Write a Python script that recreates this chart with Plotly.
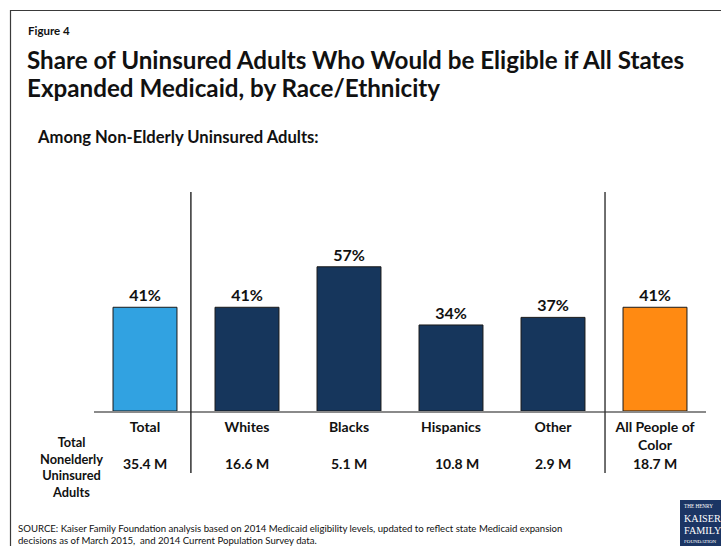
import plotly.graph_objects as go

W, H = 721, 546

# Data
categories = ["Total", "Whites", "Blacks", "Hispanics", "Other", "All People of<br>Color"]
eligible_share = [41, 41, 57, 34, 37, 41]
uninsured_millions = [35.4, 16.6, 5.1, 10.8, 2.9, 18.7]
bar_colors = ["#31A2E1", "#16365C", "#16365C", "#16365C", "#16365C", "#FF8A12"]

FONT = "Lato"
INK = "#111111"


def px_x(x):
    return x / W


def px_y(y):
    return 1 - y / H


fig = go.Figure()

fig.add_trace(go.Bar(
    x=categories,
    y=eligible_share,
    width=0.627,
    marker=dict(color=bar_colors, line=dict(color="#1a1a1a", width=1)),
    texttemplate="%{y}%",
    textposition="outside",
    textfont=dict(family=FONT, size=16, color=INK, weight="bold"),
    cliponaxis=False,
    hoverinfo="skip",
))

annotations = []

# Heading block
annotations.append(dict(text="<b>Figure 4</b>", x=px_x(26), y=px_y(30.5), xref="paper", yref="paper",
                        xanchor="left", yanchor="middle", showarrow=False,
                        font=dict(family=FONT, size=11.5, color=INK)))
annotations.append(dict(text="<b>Share of Uninsured Adults Who Would be Eligible if All States</b>",
                        x=px_x(25), y=px_y(59.5), xref="paper", yref="paper",
                        xanchor="left", yanchor="middle", showarrow=False,
                        font=dict(family=FONT, size=24.2, color=INK)))
annotations.append(dict(text="<b>Expanded Medicaid, by Race/Ethnicity</b>",
                        x=px_x(25), y=px_y(88), xref="paper", yref="paper",
                        xanchor="left", yanchor="middle", showarrow=False,
                        font=dict(family=FONT, size=24.2, color=INK)))
annotations.append(dict(text="<b>Among Non-Elderly Uninsured Adults:</b>",
                        x=px_x(35), y=px_y(137), xref="paper", yref="paper",
                        xanchor="left", yanchor="middle", showarrow=False,
                        font=dict(family=FONT, size=16.6, color=INK)))

# Row header for the totals row
annotations.append(dict(text="<b>Total<br>Nonelderly<br>Uninsured<br>Adults</b>",
                        x=px_x(71), y=px_y(467), xref="paper", yref="paper",
                        xanchor="center", yanchor="middle", showarrow=False, align="center",
                        font=dict(family=FONT, size=12.8, color=INK)))

# Totals row (millions of nonelderly uninsured adults per group)
for cat, val in zip(categories, uninsured_millions):
    annotations.append(dict(text=f"<b>{val:.1f} M</b>", x=cat, y=px_y(463.5), xref="x", yref="paper",
                            xanchor="center", yanchor="middle", showarrow=False,
                            xshift=6 if cat == "Hispanics" else 0,
                            font=dict(family=FONT, size=14, color=INK)))

# Source note
annotations.append(dict(
    text="SOURCE: Kaiser Family Foundation analysis based on 2014 Medicaid eligibility levels, updated to reflect state Medicaid expansion<br>"
         "decisions as of March 2015,  and 2014 Current Population Survey data.",
    x=px_x(16), y=px_y(534), xref="paper", yref="paper",
    xanchor="left", yanchor="middle", showarrow=False, align="left",
    font=dict(family=FONT, size=9.6, color=INK)))

# Foundation logo text
logo_lines = [("THE HENRY", 5.2, 506), ("KAISER", 10.2, 518), ("FAMILY", 10.2, 530), ("FOUNDATION", 5.0, 541)]
for txt, sz, yy in logo_lines:
    annotations.append(dict(text=txt, x=px_x(682), y=px_y(yy), xref="paper", yref="paper",
                            xanchor="left", yanchor="middle", showarrow=False,
                            font=dict(family="Liberation Serif", size=sz, color="white")))

shapes = [
    # slide frame
    dict(type="rect", xref="paper", yref="paper", x0=px_x(10.5), x1=px_x(760), y0=px_y(600), y1=px_y(10.5),
         line=dict(color="#3a3a3a", width=1.2), fillcolor="rgba(0,0,0,0)", layer="below"),
    # group separators
    dict(type="line", xref="x", yref="paper", x0=0.45, x1=0.45, y0=px_y(473), y1=px_y(192),
         line=dict(color="#222222", width=1.4)),
    dict(type="line", xref="x", yref="paper", x0=4.51, x1=4.51, y0=px_y(473), y1=px_y(192),
         line=dict(color="#333333", width=1.4)),
    # logo block
    dict(type="rect", xref="paper", yref="paper", x0=px_x(680), x1=px_x(730), y0=px_y(560), y1=px_y(500),
         line=dict(width=0), fillcolor="#1B3564"),
]

fig.update_layout(
    width=W, height=H,
    margin=dict(l=0, r=0, t=0, b=0),
    paper_bgcolor="white", plot_bgcolor="white",
    showlegend=False,
    bargap=0.37,
    xaxis=dict(
        domain=[px_x(94), px_x(706)],
        type="category",
        range=[-0.5, 5.5],
        showline=True, linecolor="#8a8a8a", linewidth=1.5,
        showgrid=False, zeroline=False, ticks="",
        tickfont=dict(family=FONT, size=14, color=INK, weight="bold"),
        ticklabelstandoff=2,
    ),
    yaxis=dict(
        domain=[px_y(411), px_y(208.6)],
        range=[0, 80],
        visible=False,
    ),
    annotations=annotations,
    shapes=shapes,
    font=dict(family=FONT, color=INK),
)

fig.write_html("out.html")
